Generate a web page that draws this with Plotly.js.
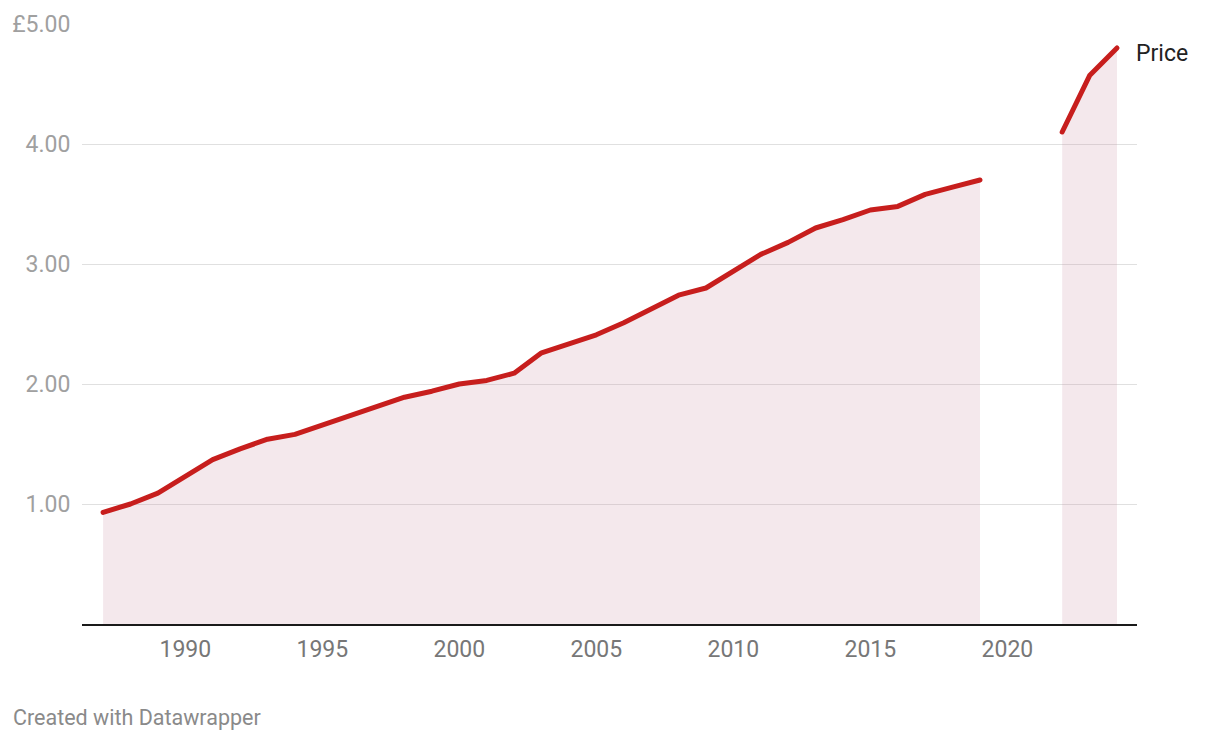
<!DOCTYPE html>
<html>
<head>
<meta charset="utf-8">
<script src="https://cdn.plot.ly/plotly-3.0.1.min.js"></script>
<style>
html,body{margin:0;padding:0;background:#fff;}
#chart{width:1220px;height:740px;}
#chart path.js-line{stroke-linecap:round !important;stroke-linejoin:round !important;}
</style>
</head>
<body>
<div id="chart"></div>
<script>
const years = [1987,1988,1989,1990,1991,1992,1993,1994,1995,1996,1997,1998,1999,2000,2001,2002,2003,2004,2005,2006,2007,2008,2009,2010,2011,2012,2013,2014,2015,2016,2017,2018,2019,2020,2021,2022,2023,2024];
const price = [0.93,1.00,1.09,1.23,1.37,1.46,1.54,1.58,1.66,1.73,1.81,1.89,1.94,2.00,2.03,2.09,2.26,2.33,2.41,2.51,2.62,2.74,2.80,2.94,3.08,3.18,3.30,3.37,3.45,3.48,3.58,3.64,3.70,null,null,4.10,4.57,4.80];
const yTickVals = [1,2,3,4,5];
const yTickText = ['1.00','2.00','3.00','4.00','£5.00'];
const xTickVals = [1990,1995,2000,2005,2010,2015,2020];
const seriesName = 'Price';
const footer = 'Created with Datawrapper';

// split the series into continuous segments (at missing years) so fills don't bridge gaps
const segments = [];
let cur = null;
years.forEach((yr, i) => {
  if (price[i] === null) { cur = null; return; }
  if (!cur) { cur = {x: [], y: []}; segments.push(cur); }
  cur.x.push(yr); cur.y.push(price[i]);
});

const traces = segments.map(s => ({
  x: s.x, y: s.y, type: 'scatter', mode: 'lines',
  line: {color: '#c71e1d', width: 5},
  fill: 'tozeroy', fillcolor: 'rgba(200,140,160,0.2)',
  hoverinfo: 'skip', showlegend: false
}));

const layout = {
  width: 1220, height: 740,
  margin: {l: 82, r: 83, t: 24, b: 116},
  paper_bgcolor: '#fff', plot_bgcolor: '#fff',
  font: {family: 'Roboto, sans-serif'},
  xaxis: {
    range: [1986.23, 2024.73], tickvals: xTickVals,
    showgrid: false, zeroline: false,
    showline: true, linecolor: '#1a1a1a', linewidth: 2,
    ticks: 'outside', ticklen: 3, tickcolor: 'rgba(0,0,0,0)',
    tickfont: {size: 23, color: '#777777', family: 'Roboto'}
  },
  yaxis: {
    range: [0, 5], tickvals: yTickVals, ticktext: yTickText,
    showgrid: true, gridcolor: '#e0e0e0', gridwidth: 1,
    zeroline: false, showline: false,
    ticks: 'outside', ticklen: 6, tickcolor: 'rgba(0,0,0,0)',
    tickfont: {size: 23, color: '#a0a0a0', family: 'Roboto'}
  },
  annotations: [
    {x: 2024, y: 4.80, xref: 'x', yref: 'y', text: seriesName, showarrow: false,
     xanchor: 'left', yanchor: 'middle', xshift: 17, yshift: -5,
     font: {size: 23, color: '#222222', family: 'Roboto'}},
    {x: -0.0673, y: -0.155, xref: 'paper', yref: 'paper', text: footer, showarrow: false,
     xanchor: 'left', yanchor: 'middle',
     font: {size: 21.5, color: '#8a8a8a', family: 'Roboto'}}
  ]
};

Plotly.newPlot('chart', traces, layout, {displayModeBar: false, staticPlot: true});
</script>
</body>
</html>
